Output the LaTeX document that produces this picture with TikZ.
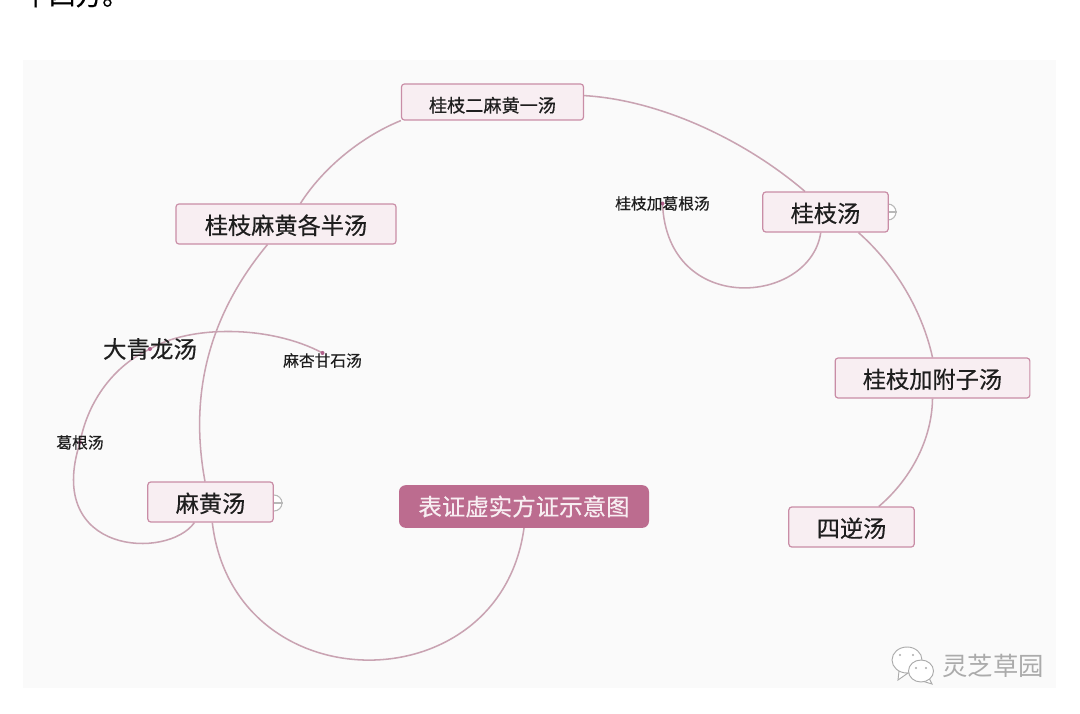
\documentclass[tikz,border=0pt]{standalone}
\usepackage{fontspec}
\setmainfont[FakeBold=0.4]{Noto Sans CJK SC}
\newfontfamily\logofont{Noto Sans CJK SC}
\usetikzlibrary{backgrounds}
\definecolor{MapPanel}{HTML}{FAFAFA}
\definecolor{MapLine}{HTML}{C9A3B2}
\definecolor{MapEdge}{HTML}{C98DA6}
\definecolor{MapFill}{HTML}{F8EEF2}
\definecolor{MapRoot}{HTML}{BC6C8F}
\definecolor{MapText}{HTML}{1E1E1E}
\definecolor{MapMark}{HTML}{B8B8B8}
\definecolor{MapDot}{HTML}{B0608A}
\definecolor{MapLogo}{HTML}{ABABAB}
\tikzset{
  topicbox/.style={draw=MapEdge,fill=MapFill,rounded corners=2.2pt,line width=.9pt,inner sep=0pt,text=MapText,text height=17.3pt,text depth=2.1pt},
  roottopic/.style={fill=MapRoot,rounded corners=5pt,inner sep=0pt,minimum width=187.5pt,minimum height=32pt,text=MapFill,font=\fontsize{17.6pt}{20pt}\selectfont},
  bigtopic/.style={topicbox,minimum width=94pt,minimum height=30pt,font=\fontsize{17.4pt}{20pt}\selectfont},
  freetopic/.style={inner sep=0pt,text=MapText,font=\fontsize{11.8pt}{14pt}\selectfont},
  relation/.style={draw=MapLine,line width=1.15pt},
  foldmark/.style={circle,draw=MapMark,fill=white,line width=.8pt,minimum size=12pt,inner sep=0pt},
}
\begin{document}
\begin{tikzpicture}[x=.75pt,y=-.75pt]
  \useasboundingbox (0,0) rectangle (1080,713);
  \clip (0,0) rectangle (1080,713);
  \node[inner sep=0pt,anchor=west,text=black,font=\fontsize{20pt}{24pt}\selectfont] (heading) at (22,-5) {十四方。};
  % topics
  \node[roottopic] (root) at (524,506.5) {表证虚实方证示意图};
  \node[bigtopic] (mahuang) at (210.5,502) {麻黄汤};
  \node[bigtopic,minimum width=165pt] (gemaban) at (286,224) {桂枝麻黄各半汤};
  \node[topicbox,minimum width=136.5pt,minimum height=27pt,font=\fontsize{13.6pt}{16pt}\selectfont] (ermayi) at (492.5,102) {桂枝二麻黄一汤};
  \node[bigtopic] (guizhi) at (825.5,212) {桂枝汤};
  \node[bigtopic,minimum width=146pt] (fuzi) at (932.5,378) {桂枝加附子汤};
  \node[bigtopic] (sini) at (851.5,527) {四逆汤};
  \node[freetopic] (gegen) at (662.5,203.5) {桂枝加葛根汤};
  \node[freetopic] (gegentang) at (80,442.5) {葛根汤};
  \node[freetopic] (maxing) at (322.5,360.5) {麻杏甘石汤};
  \node[freetopic,font=\fontsize{17.6pt}{20pt}\selectfont] (daqing) at (150,349) {大青龙汤};
  % watermark
  \node[inner sep=0pt,text=MapLogo,font=\logofont\fontsize{19pt}{22pt}\selectfont] (logo) at (993,666) {灵芝草园};
  \begin{scope}[draw=MapLogo,fill=white,line width=.7pt]
    \filldraw (899,671) -- (898,680) -- (908,673) -- cycle;
    \filldraw (907,660) ellipse (15 and 13);
    \filldraw (929,678) -- (932,684) -- (922,681) -- cycle;
    \filldraw (921,671) ellipse (12.5 and 11);
    \fill[MapLogo] (900,655) circle (1.2) (913,655) circle (1.2) (916,668) circle (1.1) (926,668) circle (1.1);
  \end{scope}
  \begin{scope}[on background layer]
    \fill[MapPanel] (23,60) rectangle (1056,688);
    \node[foldmark] (foldguizhi) at (888,212) {};
    \node[foldmark] (foldmahuang) at (274,503) {};
    \draw[MapMark,line width=.8pt] (foldguizhi.center) -- (foldguizhi.east);
    \draw[MapMark,line width=.8pt] (foldmahuang.center) -- (foldmahuang.east);
    \draw[relation] (root.south) .. controls (500,705) and (234,705) .. (mahuang.-85);
    \draw[relation] (mahuang.105) .. controls (190,400) and (205,320) .. (gemaban.-132);
    \draw[relation] (gemaban.55) .. controls (325,165) and (365,135) .. (ermayi.south west);
    \draw[relation] (ermayi.4) .. controls (660,100) and (745,140) .. (guizhi.135);
    \draw[relation] (guizhi.-32) .. controls (895,265) and (922,310) .. (fuzi.north);
    \draw[relation] (fuzi.south) .. controls (932,440) and (910,480) .. (sini.37);
    \draw[relation] (guizhi.-103) .. controls (810,305) and (667,317) .. (gegen.center);
    \draw[relation] (mahuang.-128) .. controls (168,560) and (44,555) .. (gegentang.center);
    \draw[relation] (gegentang.center) .. controls (88,400) and (115,365) .. (daqing.center);
    \draw[relation] (daqing.center) .. controls (190,325) and (270,325) .. (maxing.north);
    \foreach \n in {gegen.center,gegentang.center,daqing.center,maxing.north}
      \fill[MapDot] (\n) circle (2);
  \end{scope}
\end{tikzpicture}
\end{document}
